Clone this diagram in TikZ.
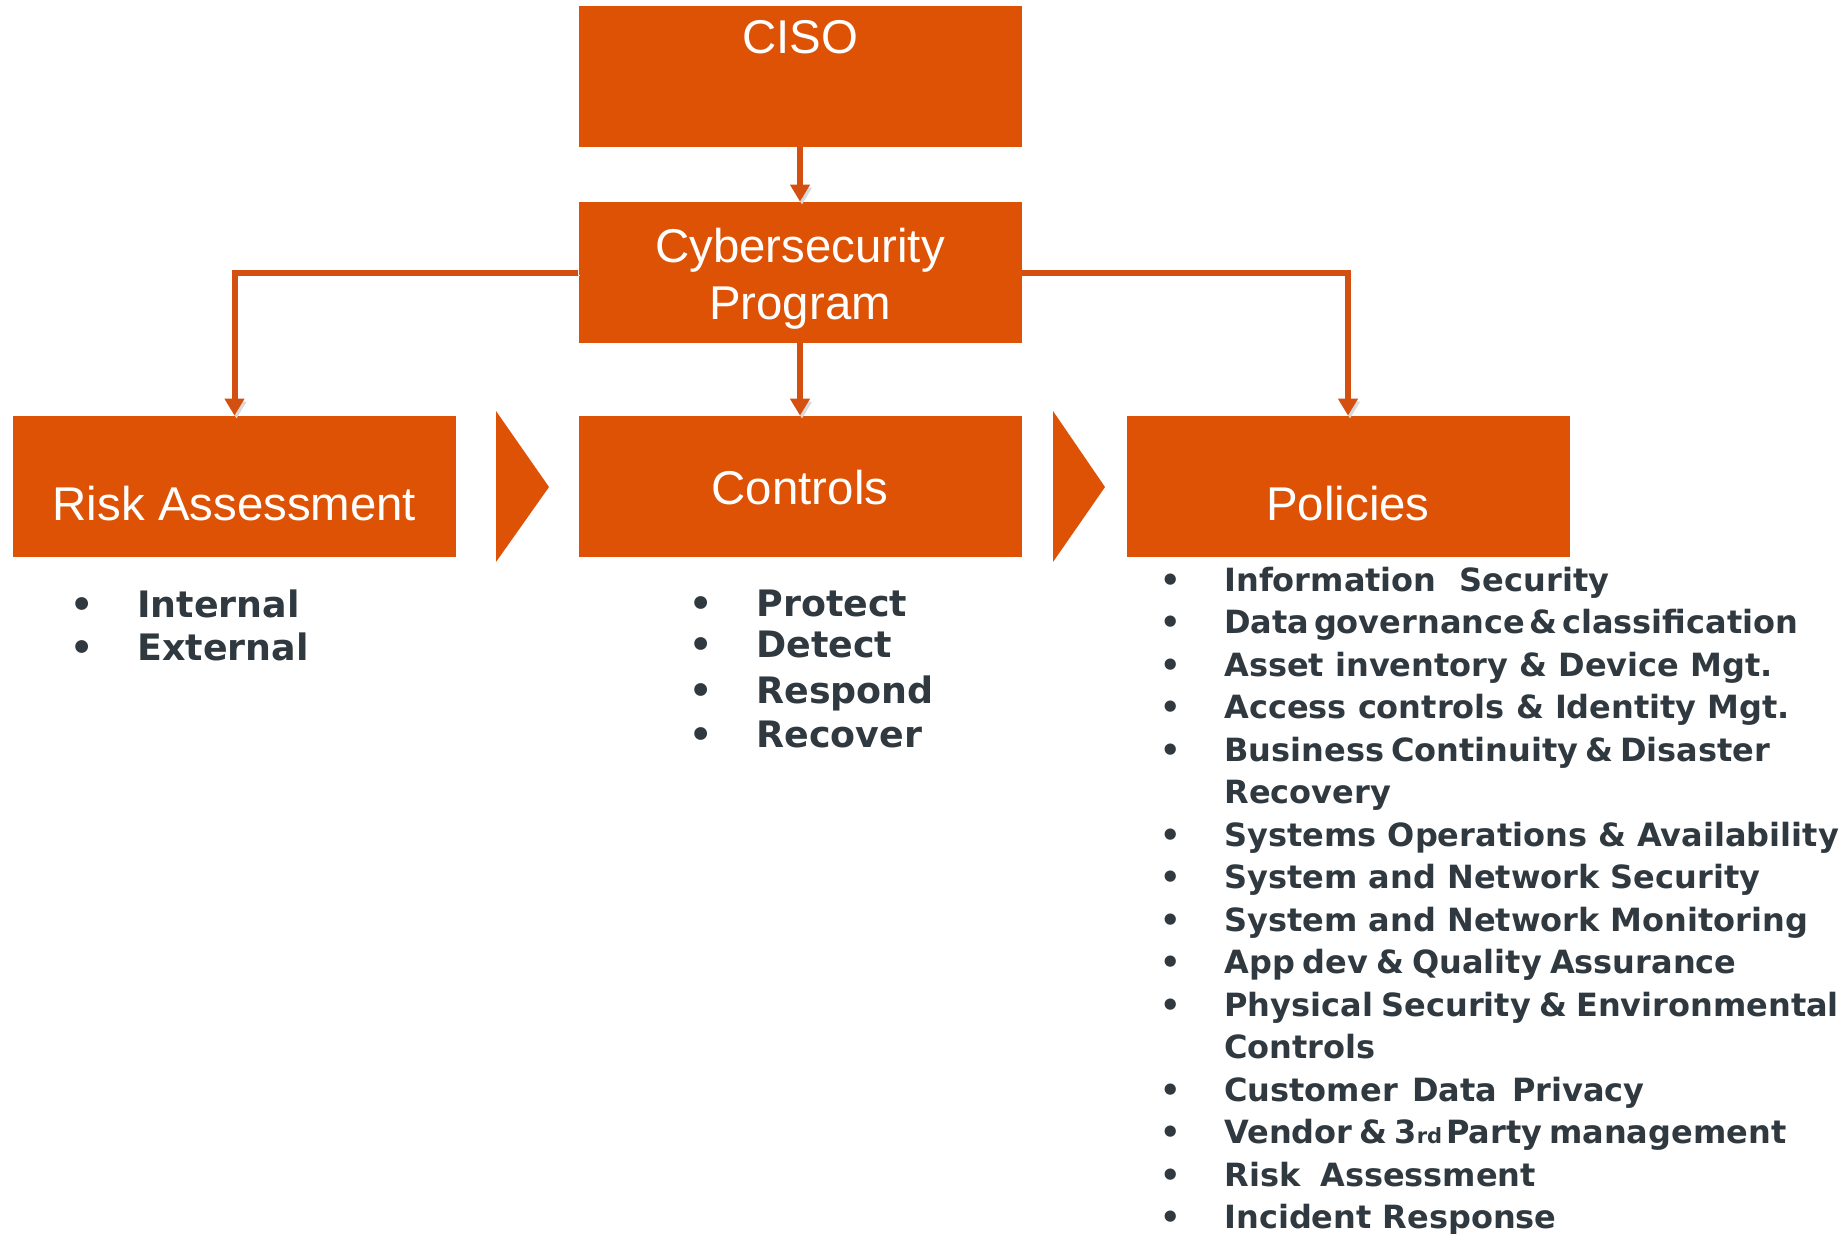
\documentclass[tikz,border=0pt]{standalone}
\usepackage{fontspec}
\setmainfont{Liberation Sans}
\newfontfamily\verafont{DejaVu Sans}
\usetikzlibrary{arrows.meta}
\definecolor{cisoorange}{RGB}{222,82,5}
\definecolor{linkorange}{RGB}{212,80,16}
\definecolor{slate}{RGB}{47,57,63}
\newcommand{\itembullet}[2]{\makebox[#1][l]{#2}}
\tikzset{
  unit/.style={fill=cisoorange, text=white, inner sep=0pt, minimum width=221.5pt,
    font=\fontsize{23.7}{28.5}\selectfont},
  link/.style={draw=linkorange, line width=3pt, -{Triangle[width=9.5pt,length=8.5pt]},
    preaction={draw=black!15, transform canvas={shift={(1pt,-1.5pt)}}}},
  point/.style={anchor=base west, inner sep=0pt, text=slate,
    font=\verafont\bfseries\fontsize{18.2}{18.2}\selectfont},
  rule/.style={anchor=base west, inner sep=0pt, text=slate,
    font=\verafont\bfseries\fontsize{16}{16}\selectfont}
}
\begin{document}
\begin{tikzpicture}[x=0.5pt,y=-0.5pt]
\useasboundingbox (0,0) rectangle (1846,1233);
\node[unit, anchor=base, text height=23.5pt, text depth=47pt] (ciso) at (800,53) {CISO};
\node[unit, minimum height=70.5pt, align=center] (cyber) at (800,272.5) {\rule{0pt}{23pt}Cybersecurity\\Program};
\node[unit, anchor=base, text height=52pt, text depth=18.5pt] (risk) at (234.5,520) {Risk Assessment};
\node[unit, anchor=base, text height=44pt, text depth=26.5pt] (ctrl) at (800,504) {Controls};
\node[unit, anchor=base, text height=52pt, text depth=18.5pt] (pol) at (1348,520) {Policies};
\fill[cisoorange] (496,411) -- (549,487) -- (496,562) -- cycle;
\fill[cisoorange] (1053,411) -- (1105,487) -- (1053,562) -- cycle;
\draw[link] (ciso) -- (cyber);
\draw[link] (cyber) -- (ctrl);
\draw[link] (cyber.west) -| (risk.north);
\draw[link] (cyber.east) -| (pol.north);
\foreach \txt [count=\i from 0] in {Internal, External}
  \node[point] (rsk\i) at (70,617+43*\i) {\itembullet{33.5pt}{•}\txt};
\foreach \y/\txt [count=\i] in {616/Protect, 657/Detect, 703/Respond, 747/Recover}
  \node[point] (ctl\i) at (689,\y) {\itembullet{33.5pt}{•}\txt};
\foreach \b/\txt [count=\i from 0] in {
  •/Information\hspace{6pt} Security,
  •/Data\hspace{2.3pt}governance\hspace{2.3pt}\&\hspace{2.3pt}classification,
  •/Asset inventory \& Device Mgt.,
  •/Access controls \& Identity Mgt.,
  •/Business\hspace{3.5pt}Continuity\hspace{3.5pt}\&\hspace{3.5pt}Disaster,
  /Recovery,
  •/Systems Operations \& Availability,
  •/System and Network Security,
  •/System and Network Monitoring,
  •/App\hspace{4pt}dev\hspace{4pt}\&\hspace{4pt}Quality\hspace{4pt}Assurance,
  •/Physical\hspace{4.3pt}Security\hspace{4.3pt}\&\hspace{4.3pt}Environmental,
  /Controls,
  •/Customer\hspace{7.3pt}Data\hspace{7.3pt}Privacy,
  •/Vendor\hspace{3.5pt}\&\hspace{3.5pt}3{\fontsize{10.5}{10.5}\selectfont rd}\hspace{2pt}Party\hspace{3.5pt}management,
  •/Risk\hspace{10pt}Assessment,
  •/Incident Response}
  \node[rule] (pol\i) at (1160,591+42.5*\i) {\itembullet{32pt}{\b}\txt};
\end{tikzpicture}
\end{document}
